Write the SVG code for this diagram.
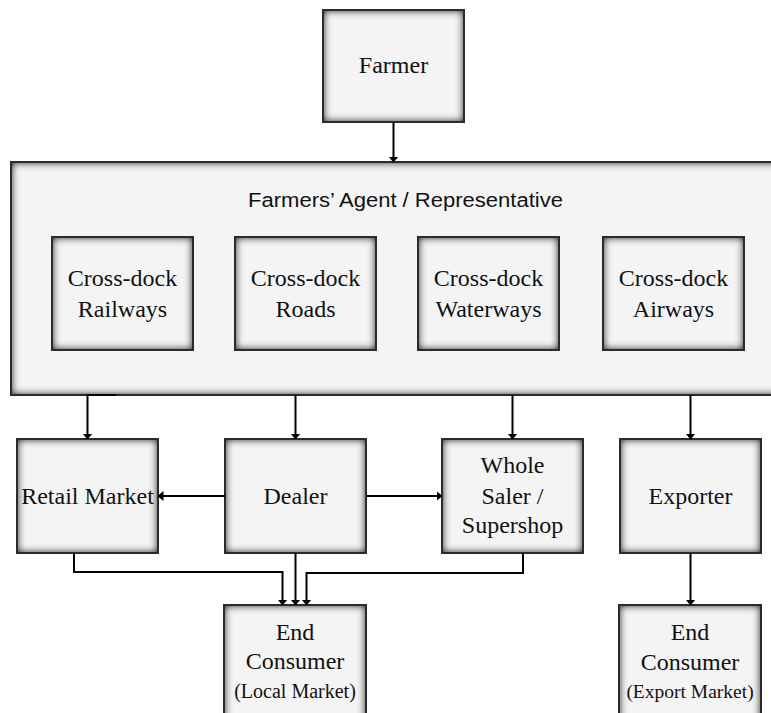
<svg xmlns="http://www.w3.org/2000/svg" width="771" height="713" viewBox="0 0 771 713">
<style>
.box{fill:#f4f4f4}
.edge{fill:none;stroke:#2b2b2b;stroke-width:2}
.lbl{font-family:"Liberation Serif","Times New Roman",serif;font-size:24px;fill:#111;text-anchor:middle}
.sm{font-size:20px}
.title{font-family:"Liberation Sans",Arial,sans-serif;font-size:20px;fill:#111;text-anchor:middle}
.conn{fill:none;stroke:#000;stroke-width:2}
</style>
<defs>
<filter id="inner" x="-10%" y="-10%" width="120%" height="120%" color-interpolation-filters="sRGB">
  <feFlood flood-color="#000" flood-opacity="1" result="black"/>
  <feComposite in="black" in2="SourceAlpha" operator="out" result="outside"/>
  <feGaussianBlur in="outside" stdDeviation="4" result="blur"/>
  <feComposite in="blur" in2="SourceAlpha" operator="in" result="shadow"/>
  <feMerge><feMergeNode in="SourceGraphic"/><feMergeNode in="shadow"/></feMerge>
</filter>
<marker id="arr" viewBox="0 0 6 10" refX="5.5" refY="5" markerWidth="6" markerHeight="10" markerUnits="userSpaceOnUse" orient="auto">
  <path d="M0 0 L6 5 L0 10 Z" fill="#000"/>
</marker>
</defs>
<rect width="771" height="713" fill="#fff"/>

<g id="farmer">
  <rect class="box" filter="url(#inner)" x="323" y="10" width="141" height="112"/>
  <rect class="edge" x="323" y="10" width="141" height="112"/>
  <text class="lbl" x="393.5" y="73">Farmer</text>
</g>

<g id="agent">
  <rect class="box" filter="url(#inner)" x="11" y="162" width="790" height="233"/>
  <rect class="edge" x="11" y="162" width="790" height="233"/>
  <text class="title" x="405.5" y="207" textLength="315" lengthAdjust="spacingAndGlyphs">Farmers’ Agent / Representative</text>
</g>

<g id="railways">
  <rect class="box" filter="url(#inner)" x="52" y="237" width="141" height="113"/>
  <rect class="edge" x="52" y="237" width="141" height="113"/>
  <text class="lbl" x="122.5" y="286">Cross-dock</text>
  <text class="lbl" x="122.5" y="317">Railways</text>
</g>
<g id="roads">
  <rect class="box" filter="url(#inner)" x="235" y="237" width="141" height="113"/>
  <rect class="edge" x="235" y="237" width="141" height="113"/>
  <text class="lbl" x="305.5" y="286">Cross-dock</text>
  <text class="lbl" x="305.5" y="317">Roads</text>
</g>
<g id="waterways">
  <rect class="box" filter="url(#inner)" x="418" y="237" width="141" height="113"/>
  <rect class="edge" x="418" y="237" width="141" height="113"/>
  <text class="lbl" x="488.5" y="286">Cross-dock</text>
  <text class="lbl" x="488.5" y="317">Waterways</text>
</g>
<g id="airways">
  <rect class="box" filter="url(#inner)" x="603" y="237" width="141" height="113"/>
  <rect class="edge" x="603" y="237" width="141" height="113"/>
  <text class="lbl" x="673.5" y="286">Cross-dock</text>
  <text class="lbl" x="673.5" y="317">Airways</text>
</g>

<g id="retail">
  <rect class="box" filter="url(#inner)" x="17" y="439" width="141" height="114"/>
  <rect class="edge" x="17" y="439" width="141" height="114"/>
  <text class="lbl" x="87.5" y="504">Retail Market</text>
</g>
<g id="dealer">
  <rect class="box" filter="url(#inner)" x="225" y="439" width="141" height="114"/>
  <rect class="edge" x="225" y="439" width="141" height="114"/>
  <text class="lbl" x="295.5" y="504">Dealer</text>
</g>
<g id="wholesaler">
  <rect class="box" filter="url(#inner)" x="442" y="439" width="141" height="114"/>
  <rect class="edge" x="442" y="439" width="141" height="114"/>
  <text class="lbl" x="512.5" y="473">Whole</text>
  <text class="lbl" x="512.5" y="503.5">Saler /</text>
  <text class="lbl" x="512.5" y="533">Supershop</text>
</g>
<g id="exporter">
  <rect class="box" filter="url(#inner)" x="620" y="439" width="141" height="114"/>
  <rect class="edge" x="620" y="439" width="141" height="114"/>
  <text class="lbl" x="690.5" y="504">Exporter</text>
</g>

<g id="endLocal">
  <rect class="box" filter="url(#inner)" x="224" y="605" width="142" height="120"/>
  <rect class="edge" x="224" y="605" width="142" height="120"/>
  <text class="lbl" x="295" y="640">End</text>
  <text class="lbl" x="295" y="669">Consumer</text>
  <text class="lbl sm" x="295" y="698">(Local Market)</text>
</g>
<g id="endExport">
  <rect class="box" filter="url(#inner)" x="619" y="605" width="142" height="120"/>
  <rect class="edge" x="619" y="605" width="142" height="120"/>
  <text class="lbl" x="690" y="640">End</text>
  <text class="lbl" x="690" y="670">Consumer</text>
  <text class="lbl sm" x="690" y="698" style="font-size:19.5px">(Export Market)</text>
</g>

<g id="connectors">
  <path class="conn" d="M393.5 122 V162" marker-end="url(#arr)"/>
  <path class="conn" d="M116 395 H87.5 V439" marker-end="url(#arr)"/>
  <path class="conn" d="M295.5 395 V439" marker-end="url(#arr)"/>
  <path class="conn" d="M512.5 395 V439" marker-end="url(#arr)"/>
  <path class="conn" d="M690.5 395 V439" marker-end="url(#arr)"/>
  <path class="conn" d="M225 496 H158" marker-end="url(#arr)"/>
  <path class="conn" d="M366 496 H442" marker-end="url(#arr)"/>
  <path class="conn" d="M74 553 V572 H282.5 V605" marker-end="url(#arr)"/>
  <path class="conn" d="M295.5 553 V605" marker-end="url(#arr)"/>
  <path class="conn" d="M523 553 V573 H306.5 V605" marker-end="url(#arr)"/>
  <path class="conn" d="M690.5 553 V605" marker-end="url(#arr)"/>
</g>
</svg>
